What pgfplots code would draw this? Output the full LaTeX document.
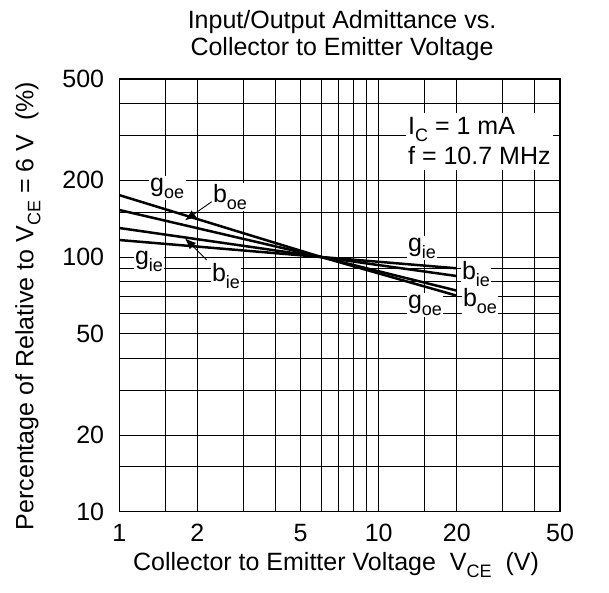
\documentclass[border=0pt]{standalone}
\usepackage{fontspec}
\setmainfont{Liberation Sans}
\usepackage{pgfplots}
\pgfplotsset{compat=1.18}
\usetikzlibrary{arrows.meta}
\newcommand{\fs}{\fontsize{25}{30}\selectfont}
\newcommand{\sub}[1]{\raisebox{-0.28em}{\fontsize{18}{18}\selectfont #1}}
\begin{document}
\begin{tikzpicture}[x=1pt,y=1pt]
\path[use as bounding box] (0,0) rectangle (609,592);
\begin{axis}[
 at={(119.3pt,80.3pt)}, anchor=south west, scale only axis,
 width=440.7pt, height=432.7pt,
 xmode=log, ymode=log, xmin=1, xmax=50, ymin=10, ymax=500,
 xtick={1,2,5,10,20,50}, xticklabels={1,2,5,10,20,50},
 ytick={10,20,50,100,200,500}, yticklabels={10,20,50,100,200,500},
 minor xtick={1.5,3,4,6,7,8,9,15,30,40},
 minor ytick={15,30,40,60,70,80,90,150,300,400},
 grid=both,
 major grid style={black, line width=0.8pt},
 minor grid style={black, line width=0.8pt},
 major tick length=0pt, minor tick length=0pt,
 axis line style={line width=1.3pt},
 tick label style={font=\fs, inner sep=0pt},
 /pgf/number format/assume math mode=true,
 xticklabel style={yshift=-12.5pt},
 yticklabel style={xshift=-15pt},
 xlabel={Collector to Emitter Voltage\ \ V\sub{CE}\ \ (V)},
 xlabel style={font=\fs, inner sep=0pt, at={(rel axis cs:0.4917,-0.1370)}, anchor=base},
 ylabel={Percentage of Relative to V\sub{CE} = 6 V\ \ (\%)},
 ylabel style={font=\fs, at={(rel axis cs:-0.2072,0.475)}, anchor=center},
 clip=false,
]
% g_oe
\addplot[black, line width=2.5pt, line join=round] coordinates {(1,175) (6,100) (20,70.5)};
% b_oe
\addplot[black, line width=2.5pt, line join=round] coordinates {(1,153) (6,100) (20,73.8)};
% b_ie
\addplot[black, line width=2.5pt, line join=round] coordinates {(1,130) (6,100) (20,84.2)};
% g_ie
\addplot[black, line width=2.5pt, line join=round] coordinates {(1,116.6) (6,100) (20,90.3)};

\tikzset{lbl/.style={fill=white, inner sep=1.5pt, font=\fs}}
\node[lbl] at (rel axis cs:0.1087,0.748) {g\sub{oe}};
\node[lbl] at (rel axis cs:0.2512,0.7273) {b\sub{oe}};
\draw[line width=0.9pt, -{Latex[length=11pt,width=9pt]}] (rel axis cs:0.2097,0.7164) -- (rel axis cs:0.1491,0.6733);
\node[lbl] at (rel axis cs:0.0674,0.5794) {g\sub{ie}};
\node[lbl] at (rel axis cs:0.2421,0.5447) {b\sub{ie}};
\draw[line width=0.9pt, -{Latex[length=11pt,width=9pt]}] (rel axis cs:0.1983,0.5817) -- (rel axis cs:0.1491,0.6319);
\node[lbl] at (rel axis cs:0.6869,0.6090) {g\sub{ie}};
\node[lbl] at (rel axis cs:0.8094,0.5489) {b\sub{ie}};
\node[lbl] at (rel axis cs:0.8185,0.4865) {b\sub{oe}};
\node[lbl] at (rel axis cs:0.6937,0.4772) {g\sub{oe}};

\fill[white] (rel axis cs:0.650,0.790) rectangle (rel axis cs:0.984,0.9214);
\node[font=\fs, anchor=west, inner sep=0pt] at (rel axis cs:0.655,0.8822) {I\sub{C} = 1 mA};
\node[font=\fs, anchor=west, inner sep=0pt] at (rel axis cs:0.655,0.824) {f = 10.7 MHz};
\end{axis}
\node[font=\fs, anchor=base] at (342,563) {Input/Output Admittance vs.};
\node[font=\fs, anchor=base] at (342,536) {Collector to Emitter Voltage};
\end{tikzpicture}
\end{document}
